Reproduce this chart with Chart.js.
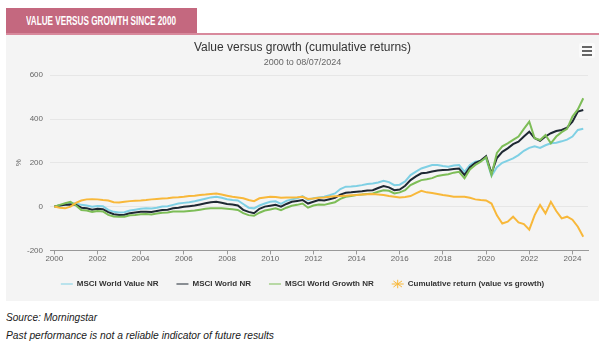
<!DOCTYPE html>
<html>
<head>
<meta charset="utf-8">
<script src="https://cdn.jsdelivr.net/npm/chart.js@4.4.1/dist/chart.umd.min.js"></script>
<style>
body{margin:0;background:#fff;font-family:"Liberation Sans",Arial,sans-serif;}
#tab{position:absolute;left:6px;top:8px;width:191px;height:25px;background:#c4687f;color:#fff;white-space:nowrap;}
#tab span{position:absolute;left:20px;top:0;font:bold 12px "Liberation Sans",Arial,sans-serif;line-height:27px;transform-origin:left center;}
#rule{position:absolute;left:6px;top:33px;width:593px;height:2px;background:#d8899c;}
#panel{position:absolute;left:6px;top:35px;width:593px;height:266px;background:#f4f4f4;}
#menu{position:absolute;left:573px;top:8px;width:16px;height:15px;background:#fafafa;border-radius:2px;}
#menu i{position:absolute;left:3px;width:10px;height:2px;background:#666;}
.note{position:absolute;left:6px;white-space:nowrap;font:italic 10.5px "Liberation Sans",Arial,sans-serif;color:#1a1a1a;transform-origin:left center;}
</style>
</head>
<body>
<div id="tab"><span id="tabText">VALUE VERSUS GROWTH SINCE 2000</span></div>
<div id="rule"></div>
<div id="panel">
  <canvas id="chart" width="593" height="266"></canvas>
  <div id="menu"><i style="top:3px"></i><i style="top:7px"></i><i style="top:11px"></i></div>
</div>
<div class="note" id="src" style="top:311px">Source: Morningstar</div>
<div class="note" id="past" style="top:329px">Past performance is not a reliable indicator of future results</div>
<script>
// quarterly readings, 2000 Q1 .. 2024 Q3 (cumulative %)
var valueNR = [
  0, 5, 8, 14,   15, 8, 5, -1,   3, 2, -15, -24,   -27, -26, -18, -14,
  -10, -8, -9, -5,   0, 2, 8, 14,   17, 20, 24, 30,   36, 42, 45, 40,
  34, 30, 28, 12,   -5, -8, 5, 14,   22, 24, 12, 26,   33, 38, 48, 30,
  38, 42, 45, 52,   60, 80, 91, 92,   94, 98, 103, 106,   110, 118, 112, 98,
  100, 115, 144, 160,   174, 182, 190, 190,   185, 182, 188, 190,   159, 190, 205, 210,
  220, 140, 180, 200,   210, 220, 235, 255,   268, 275, 268, 280,   289, 292, 298, 306,
  320, 350, 355
];
var worldNR = [
  0, 5, 8, 10,   8, -5, -8, -14,   -10, -12, -25, -35,   -38, -37, -30, -27,
  -24, -24, -25, -20,   -16, -14, -8, -5,   -1, 2, 5, 10,   15, 20, 22, 18,
  12, 10, 5, -15,   -24, -30, -10, 0,   4, 8, 0, 12,   22, 26, 30, 14,
  22, 30, 28, 34,   40, 55, 63, 65,   68, 70, 73, 75,   85, 94, 88, 75,
  78, 95, 121, 138,   152, 155, 160, 165,   167, 168, 172, 174,   144, 180, 200, 210,
  230, 152, 222, 250,   266, 285, 296, 320,   342, 312, 300, 320,   335, 345, 350, 360,
  388, 434, 441
];
var growthNR = [
  0, 8, 15, 22,   5, -16, -18, -24,   -20, -22, -38, -45,   -46, -46, -40, -38,
  -35, -34, -36, -32,   -28, -27, -22, -22,   -22, -20, -18, -14,   -10, -8, -8, -8,
  -10, -12, -15, -30,   -39, -42, -28, -18,   -13, -8, -16, -5,   4, 8, 14, -5,
  5, 10, 8, 14,   20, 35, 45, 48,   53, 55, 58, 60,   68, 75, 72, 60,
  65, 75, 98, 110,   121, 125, 130, 140,   144, 148, 155, 159,   129, 170, 190, 205,
  225, 144, 245, 275,   289, 305, 320, 355,   388, 312, 304, 327,   289, 320, 340, 355,
  411, 444, 495
];
var cumulative = [
  0, -5, -8, 0,   17, 28, 33, 34,   33, 30, 28, 20,   19, 22, 25, 27,
  28, 30, 33, 35,   37, 38, 42, 43,   45, 48, 50, 53,   55, 58, 60, 55,
  50, 45, 42, 38,   30, 25, 38, 42,   45, 44, 40, 42,   42, 43, 45, 35,
  37, 40, 42, 45,   47, 48, 50, 52,   53, 55, 56, 57,   55, 53, 48, 45,
  42, 44, 48, 60,   72, 65, 62, 58,   53, 50, 45, 45,   45, 40, 33, 30,
  28, 14, -40, -77,   -69, -46, -72, -80,   -105, -39, 7, -31,   22, -20, -54, -46,
  -60, -92, -138
];
var seriesNames = ["MSCI World Value NR", "MSCI World NR", "MSCI World Growth NR", "Cumulative return (value vs growth)"];
var xTicks = [2000, 2002, 2004, 2006, 2008, 2010, 2012, 2014, 2016, 2018, 2020, 2022, 2024];
var yTicks = [-200, 0, 200, 400, 600];

// squeeze the condensed-looking html texts to the widths seen in the picture
function fitWidth(id, w){
  var el = document.getElementById(id);
  var r = el.getBoundingClientRect().width;
  el.style.transform = 'scaleX(' + (w / r) + ')';
}
fitWidth('tabText', 150);
fitWidth('src', 91);
fitWidth('past', 268);

function pts(arr){
  return arr.map(function(v, i){ return {x: 2000 + i * 0.25, y: v}; });
}

var ctx = document.getElementById("chart");
var myChart = new Chart(ctx, {
  type: 'line',
  data: {
    datasets: [
      {label: seriesNames[0], data: pts(valueNR), borderColor: '#7fd0e4', backgroundColor: '#7fd0e4', pointStyle: 'line', order: 3},
      {label: seriesNames[1], data: pts(worldNR), borderColor: '#1e2833', backgroundColor: '#1e2833', pointStyle: 'line', order: 2},
      {label: seriesNames[2], data: pts(growthNR), borderColor: '#7dbd57', backgroundColor: '#7dbd57', pointStyle: 'line', order: 1},
      {label: seriesNames[3], data: pts(cumulative), borderColor: '#f8b83a', backgroundColor: '#f8b83a', pointStyle: 'star', order: 0}
    ]
  },
  options: {
    responsive: false,
    animation: false,
    layout: {padding: {left: 0, right: 0, top: 0, bottom: 3}},
    elements: {line: {borderWidth: 2, tension: 0}, point: {radius: 0, hoverRadius: 0}},
    plugins: {
      tooltip: {enabled: false},
      title: {display: true, text: 'Value versus growth (cumulative returns)', color: '#333',
              font: {family: 'Liberation Sans', size: 12, weight: 'normal'}, padding: {top: 5, bottom: 0}},
      subtitle: {display: true, text: '2000 to 08/07/2024', color: '#666',
              font: {family: 'Liberation Sans', size: 9}, padding: {top: 3, bottom: 7}},
      legend: {
        position: 'bottom',
        labels: {usePointStyle: true, pointStyleWidth: 12, boxHeight: 6, padding: 18, color: '#333',
                 font: {family: 'Liberation Sans', size: 8, weight: 'bold'},
                 sort: function(a, b){ return a.datasetIndex - b.datasetIndex; }}
      }
    },
    scales: {
      x: {
        type: 'linear', min: 1999.8, max: 2024.72,
        afterBuildTicks: function(s){ s.ticks = xTicks.map(function(v){ return {value: v}; }); },
        afterFit: function(s){ s.height -= 2; },
        ticks: {color: '#666', font: {family: 'Liberation Sans', size: 8}, padding: 0, maxRotation: 0,
                callback: function(v){ return String(v); }},
        grid: {drawOnChartArea: false, drawTicks: true, tickLength: 4, tickColor: '#999'},
        border: {color: '#999', width: 1}
      },
      y: {
        min: -200, max: 600,
        afterBuildTicks: function(s){ s.ticks = yTicks.map(function(v){ return {value: v}; }); },
        afterFit: function(s){ s.width = 44; },
        title: {display: true, text: '%', color: '#666', font: {family: 'Liberation Sans', size: 8}, padding: {top: 8, bottom: 0}},
        ticks: {color: '#666', font: {family: 'Liberation Sans', size: 8}, padding: 7},
        grid: {color: '#e6e6e6', drawTicks: false},
        border: {display: false}
      },
      yRight: {
        position: 'right', min: -200, max: 600,
        afterFit: function(s){ s.width = 11; },
        ticks: {display: false},
        grid: {display: false},
        border: {display: false}
      }
    }
  }
});
</script>
</body>
</html>
